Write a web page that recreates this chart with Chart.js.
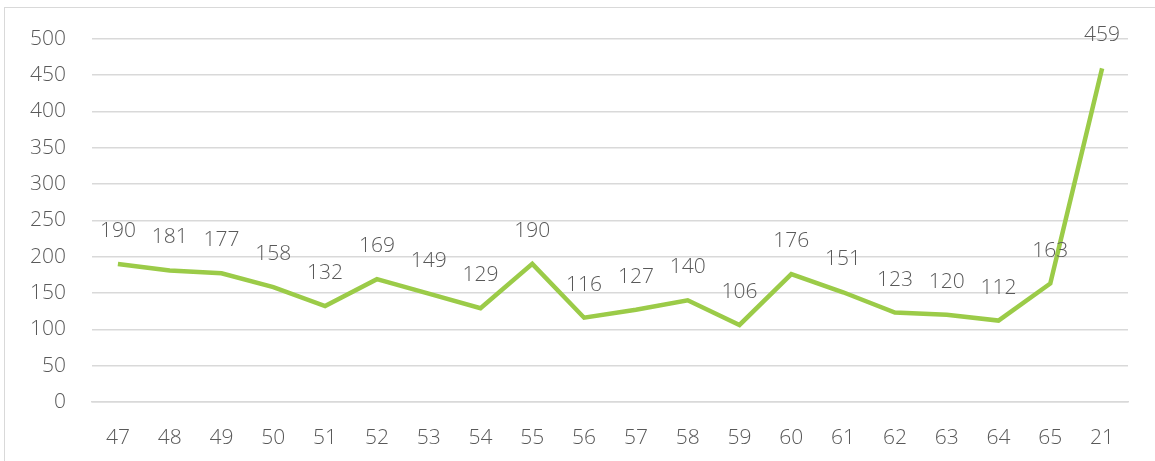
<!DOCTYPE html>
<html>
<head>
<meta charset="utf-8">
<script src="https://cdn.jsdelivr.net/npm/chart.js@4/dist/chart.umd.min.js"></script>
<style>
  html, body { margin: 0; padding: 0; background: #fff; }
  #cadre {
    position: absolute; left: 4px; top: 7px; width: 1151px; height: 454px;
    border-top: 1px solid #d9d9d9; border-left: 1px solid #d9d9d9;
  }
  #zone { position: absolute; left: 0; top: 0; width: 1155px; height: 461px; }
</style>
</head>
<body>
<div id="cadre"></div>
<div id="zone"><canvas id="graphique"></canvas></div>
<script>
// Données
const categories = ['47', '48', '49', '50', '51', '52', '53', '54', '55', '56',
                    '57', '58', '59', '60', '61', '62', '63', '64', '65', '21'];
const valeurs = [190, 181, 177, 158, 132, 169, 149, 129, 190, 116,
                 127, 140, 106, 176, 151, 123, 120, 112, 163, 459];
const ticksY = [0, 50, 100, 150, 200, 250, 300, 350, 400, 450, 500];

const couleurTexte = '#595959';
const police = "'Open Sans', sans-serif";

// Petit plugin maison pour écrire la valeur au-dessus de chaque point
const etiquettesValeurs = {
  id: 'etiquettesValeurs',
  afterDatasetsDraw(chart) {
    const ctx = chart.ctx;
    const meta = chart.getDatasetMeta(0);
    ctx.save();
    ctx.font = '300 21px ' + police;
    ctx.fillStyle = couleurTexte;
    ctx.textAlign = 'center';
    ctx.textBaseline = 'middle';
    meta.data.forEach((pt, i) => {
      ctx.fillText(String(valeurs[i]), pt.x, pt.y - 33);
    });
    ctx.restore();
  }
};

const ctx = document.getElementById('graphique').getContext('2d');
new Chart(ctx, {
  type: 'line',
  data: {
    labels: categories,
    datasets: [{
      data: valeurs,
      borderColor: '#9bcb48',
      borderWidth: 4.5,
      pointRadius: 0,
      tension: 0,
      fill: false
    }]
  },
  options: {
    responsive: true,
    maintainAspectRatio: false,
    animation: false,
    layout: { padding: { top: 36, right: 27, left: 0, bottom: 0 } },
    plugins: {
      legend: { display: false },
      tooltip: { enabled: false }
    },
    scales: {
      x: {
        offset: true,
        grid: { display: false, drawTicks: false },
        border: { display: true, color: '#d9d9d9', width: 1.5 },
        ticks: {
          color: couleurTexte,
          font: { family: police, size: 21, weight: '300' },
          padding: 23,
          maxRotation: 0,
          autoSkip: false
        },
        afterFit(scale) { scale.height = 59; }
      },
      y: {
        min: 0,
        max: 500,
        afterBuildTicks(scale) { scale.ticks = ticksY.map(v => ({ value: v })); },
        grid: { color: '#d9d9d9', lineWidth: 1.5, drawTicks: false },
        border: { display: false },
        ticks: {
          color: couleurTexte,
          font: { family: police, size: 21, weight: '300' },
          padding: 26
        },
        afterFit(scale) { scale.width = 92; }
      }
    }
  },
  plugins: [etiquettesValeurs]
});
</script>
</body>
</html>
